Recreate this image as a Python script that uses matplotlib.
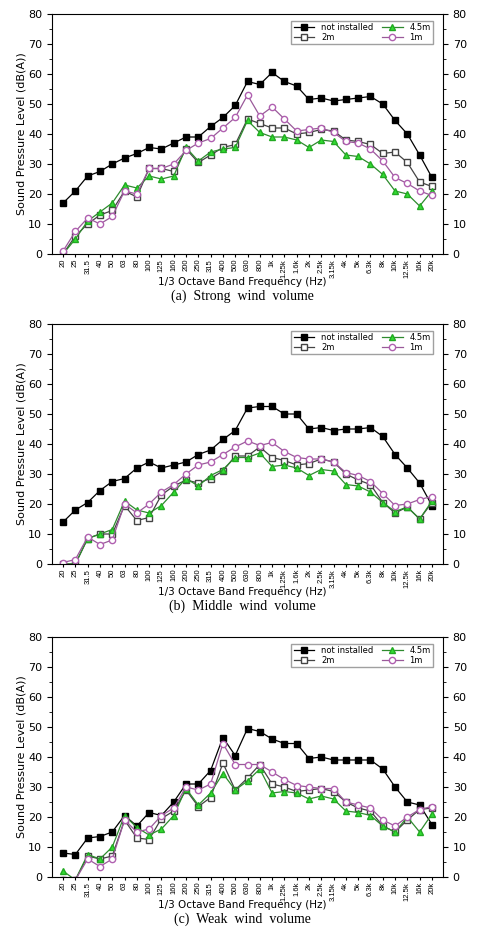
import matplotlib
matplotlib.use("Agg")
import matplotlib.pyplot as plt
import numpy as np

freqs = ["20","25","31.5","40","50","63","80","100","125","160","200","250","315","400","500","630","800","1k","1.25k","1.6k","2k","2.5k","3.15k","4k","5k","6.3k","8k","10k","12.5k","16k","20k"]

a_not = [17,21,26,27.5,30,32,33.5,35.5,35,37,39,39,42.5,45.5,49.5,57.5,56.5,60.5,57.5,56,51.5,52,51,51.5,52,52.5,50,44.5,40,33,25.5]
a_45 = [0,5,11,14,17,23,22,26,25,26,35.5,31,34,35,35.5,44.5,40.5,39,39,38,35.5,38,37.5,33,32.5,30,26.5,21,20,16,21]
a_2 = [0,6,10,13,14.5,21,19,28.5,28.5,27.5,35,30.5,33,35.5,36.5,45,43.5,42,42,40,40.5,41.5,41,38,37.5,36.5,33.5,34,30.5,24,22.5]
a_1 = [1,7.5,12,10,12.5,21,20,28.5,28.5,30,34.5,37,38.5,42,45.5,53,46,49,45,41,41.5,42,40.5,37.5,37,35,31,25.5,23.5,21,19.5]

b_not = [14,18,20.5,24.5,27.5,28.5,32,34,32,33,34,36.5,38,41.5,44.5,52,52.5,52.5,50,50,45,45.5,44.5,45,45,45.5,42.5,36.5,32,27,19.5]
b_45 = [0,0,8.5,10,11.5,21,18,17,19.5,24,28.5,26,29.5,31.5,35.5,35.5,37,32.5,33,32,29.5,31.5,31,26.5,26,24,20.5,17.5,19,15,21]
b_2 = [0,0,8.5,10,10,19.5,14.5,15.5,23,26,28,27,28.5,31,36,36,39,35.5,34.5,33,33.5,35,34,30,28,26.5,20.5,17,19,15,20.5]
b_1 = [0.5,1.5,9,6.5,8,20,17,20,24,26.5,30,33,34,36.5,39,41,39.5,40.5,37.5,35.5,35,35,34,30.5,29.5,27.5,23.5,19.5,20,21.5,22.5]

c_not = [8,7.5,13,13.5,15,20.5,17,21.5,20.5,25,31,31,35.5,46.5,40.5,49.5,48.5,46,44.5,44.5,39.5,40,39,39,39,39,36,30,25,24,17.5]
c_45 = [2,-1,7.5,6,10,20.5,16.5,14,16,20.5,29.5,24,28,34.5,29,32,36,28,28.5,28,26,27,26,22,21.5,20.5,17,15,20,15,21]
c_2 = [-1,-1,7,6,7,19,13,12.5,19.5,22,29,23.5,26.5,38,29,33,37.5,31,30,28.5,29,29.5,28.5,25,23,22,17,15,19,22.5,23]
c_1 = [-1,-1,6,3.5,6,19,15,16,20.5,23,30,29,31,44.5,37.5,37.5,37.5,35,32.5,30.5,30,29.5,29.5,25,24,23,19,17,20,22.5,23.5]

panels = [
    ("(a)  Strong  wind  volume", a_not, a_45, a_2, a_1, 14, 254),
    ("(b)  Middle  wind  volume", b_not, b_45, b_2, b_1, 324, 564),
    ("(c)  Weak  wind  volume", c_not, c_45, c_2, c_1, 637, 877),
]

W, H = 484, 946
fig = plt.figure(figsize=(W/100, H/100), dpi=100)
x = np.arange(len(freqs))
for cap, nv, g, s2, s1, top, bot in panels:
    ax = fig.add_axes([52/W, 1-bot/H, (443-52)/W, (bot-top)/H])
    ax.plot(x, nv, color="black", marker="s", ms=4, lw=0.9, label="not installed")
    ax.plot(x, s2, color="#444444", marker="s", ms=4, mfc="white", mec="#444444", lw=0.9, label="2m")
    ax.plot(x, g, color="#2e8b2e", marker="^", ms=5, mfc="#33dd33", mec="#22aa22", lw=0.9, label="4.5m")
    ax.plot(x, s1, color="#9a5a9a", marker="o", ms=4.5, mfc="white", mec="#b060b0", lw=0.9, label="1m")
    ax.set_ylim(0, 80)
    ax.set_xlim(-0.9, len(freqs)-0.1)
    ax.set_xticks(x)
    ax.set_xticklabels(freqs, rotation=90, fontsize=5.5, family="Liberation Sans")
    ax.set_yticks(range(0, 81, 10))
    ax.set_yticks(range(0, 81, 5), minor=True)
    ax.tick_params(axis="y", which="both", right=True, labelright=True, labelsize=8)
    ax.tick_params(axis="x", pad=1, length=2.5)
    ax.set_ylabel("Sound Pressure Level (dB(A))", fontsize=8, labelpad=1)
    fig.text(0.5, 1-(bot+28)/H, "1/3 Octave Band Frequency (Hz)", ha="center", va="center", fontsize=7.5)
    ax.legend(ncol=2, loc="upper right",
              fontsize=6, frameon=True, fancybox=False, edgecolor="#888888",
              handlelength=2.5, columnspacing=1.0, borderpad=0.3, labelspacing=0.1,
              bbox_to_anchor=(0.985, 0.99))
    fig.text(0.5, 1-(bot+42)/H, cap, ha="center", va="center", fontsize=10, family="Liberation Serif")

fig.savefig("out.png", dpi=100)
